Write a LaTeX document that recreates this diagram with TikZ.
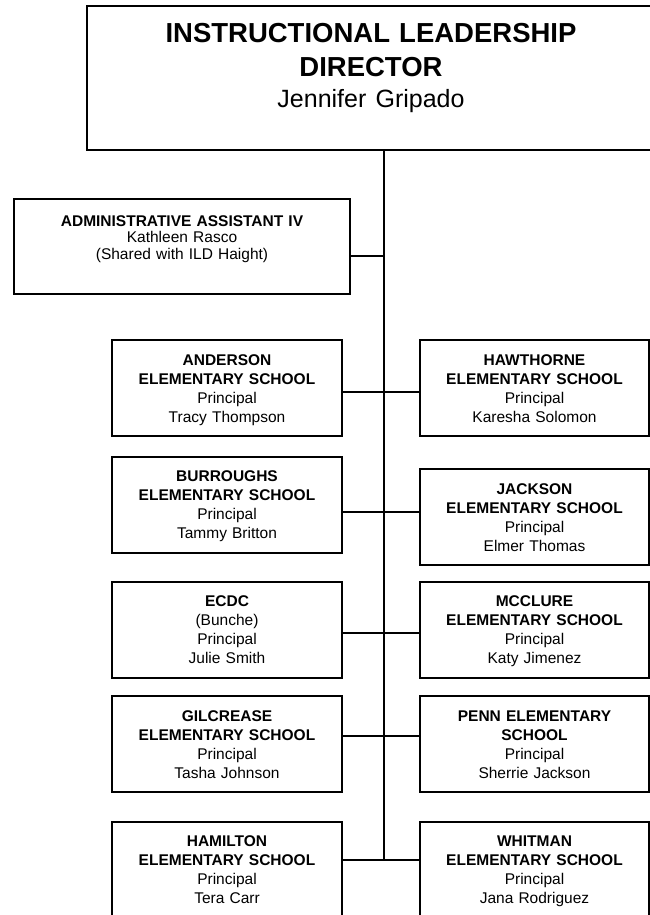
\documentclass[tikz,border=0pt]{standalone}
\usepackage{fontspec}
\setmainfont{Liberation Sans}
\begin{document}
\begin{tikzpicture}[x=1pt,y=-1pt,
  box/.style={draw=black, line width=2pt, anchor=north west, inner sep=0pt, outer sep=0pt},
  lbox/.style={box, minimum width=230pt, minimum height=96pt},
  rbox/.style={box, minimum width=229pt, minimum height=96pt},
  txt/.style={anchor=base, align=center, inner sep=0pt, text width=228pt, font=\fontsize{15.5}{19}\selectfont},
  link/.style={line width=1.8pt}]
\useasboundingbox (0,0) rectangle (650,915);
\begin{scope}
\clip (0,0) rectangle (650,915);
% director
\node[box, minimum width=570pt, minimum height=144pt] (director) at (87,6) {};
\node[anchor=base, align=center, inner sep=0pt, text width=520pt, font=\fontsize{27.5}{34}\selectfont\bfseries] (directorT) at (371,43)
  {INSTRUCTIONAL LEADERSHIP\\DIRECTOR\\[-3pt]{\mdseries\fontsize{25}{30}\selectfont Jennifer Gripado}};
% admin
\node[box, minimum width=336pt, minimum height=95pt] (admin) at (14,199.3) {};
\node[txt, text width=330pt, font=\fontsize{15.5}{16.5}\selectfont] (adminT) at (182,226)
  {\textbf{ADMINISTRATIVE ASSISTANT IV}\\Kathleen Rasco\\(Shared with ILD Haight)};
% left column
\node[lbox] (anderson) at (112,340) {};
\node[txt] (andersonT) at (227,365) {\textbf{ANDERSON}\\\textbf{ELEMENTARY SCHOOL}\\Principal\\Tracy Thompson};
\node[lbox] (burroughs) at (112,456.7) {};
\node[txt] (burroughsT) at (227,481.7) {\textbf{BURROUGHS}\\\textbf{ELEMENTARY SCHOOL}\\Principal\\Tammy Britton};
\node[lbox] (ecdc) at (112,581.7) {};
\node[txt] (ecdcT) at (227,606.7) {\textbf{ECDC}\\(Bunche)\\Principal\\Julie Smith};
\node[lbox] (gilcrease) at (112,696) {};
\node[txt] (gilcreaseT) at (227,721) {\textbf{GILCREASE}\\\textbf{ELEMENTARY SCHOOL}\\Principal\\Tasha Johnson};
\node[lbox] (hamilton) at (112,821.7) {};
\node[txt] (hamiltonT) at (227,846.7) {\textbf{HAMILTON}\\\textbf{ELEMENTARY SCHOOL}\\Principal\\Tera Carr};
% right column
\node[rbox] (hawthorne) at (420,340) {};
\node[txt] (hawthorneT) at (534.5,365) {\textbf{HAWTHORNE}\\\textbf{ELEMENTARY SCHOOL}\\Principal\\Karesha Solomon};
\node[rbox] (jackson) at (420,469) {};
\node[txt] (jacksonT) at (534.5,494) {\textbf{JACKSON}\\\textbf{ELEMENTARY SCHOOL}\\Principal\\Elmer Thomas};
\node[rbox] (mcclure) at (420,581.7) {};
\node[txt] (mcclureT) at (534.5,606.7) {\textbf{MCCLURE}\\\textbf{ELEMENTARY SCHOOL}\\Principal\\Katy Jimenez};
\node[rbox] (penn) at (420,696) {};
\node[txt] (pennT) at (534.5,721) {\textbf{PENN ELEMENTARY}\\\textbf{SCHOOL}\\Principal\\Sherrie Jackson};
\node[rbox] (whitman) at (420,821.7) {};
\node[txt] (whitmanT) at (534.5,846.7) {\textbf{WHITMAN}\\\textbf{ELEMENTARY SCHOOL}\\Principal\\Jana Rodriguez};
% trunk
\coordinate (trunkTop) at (director.south -| 384,0);
\coordinate (jA) at (384,256);
\coordinate (j1) at (384,391.7);
\coordinate (j2) at (384,511.7);
\coordinate (j3) at (384,633.3);
\coordinate (j4) at (384,735.7);
\coordinate (j5) at (384,860);
\draw[link] (trunkTop) -- (j5);
\draw[link] (admin.east |- jA) -- (jA);
\draw[link] (anderson.east |- j1) -- (hawthorne.west |- j1);
\draw[link] (burroughs.east |- j2) -- (jackson.west |- j2);
\draw[link] (ecdc.east |- j3) -- (mcclure.west |- j3);
\draw[link] (gilcrease.east |- j4) -- (penn.west |- j4);
\draw[link] (hamilton.east |- j5) -- (whitman.west |- j5);
\end{scope}
\end{tikzpicture}
\end{document}
